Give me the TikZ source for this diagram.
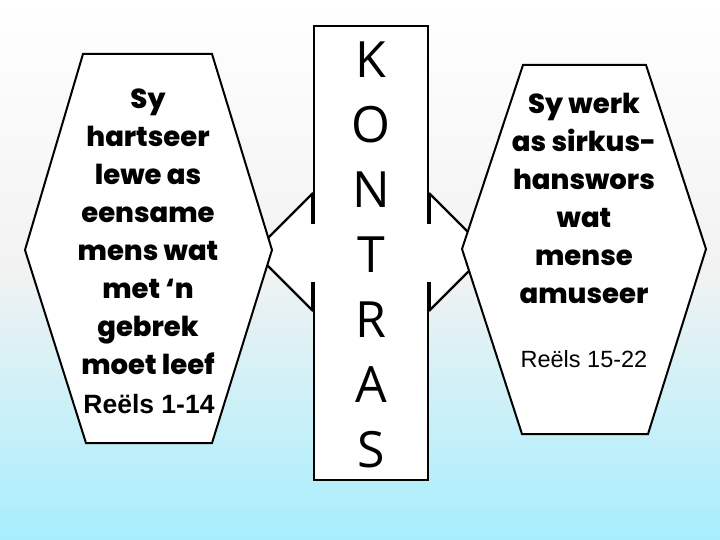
\documentclass[tikz,border=0pt]{standalone}
\usepackage{fontspec}
\setmainfont{Poppins}
\newfontfamily\hexfont{Poppins}[UprightFont=* ExtraBold]
\newfontfamily\arialfont{Liberation Sans}
\newfontfamily\kfont{Open Sans}
\definecolor{bgtop}{RGB}{255,255,255}
\definecolor{bgmid}{RGB}{242,242,242}
\definecolor{bgbot}{RGB}{166,238,253}
\tikzset{
  hexshape/.style={draw=black, fill=white, line width=2pt, line join=miter},
  edgeline/.style={draw=black, line width=2.2pt},
  barline/.style={draw=black, line width=4pt},
  hextext/.style={align=center, font=\hexfont\fontsize{27.5}{38}\selectfont, inner sep=0pt},
  reftextl/.style={font=\arialfont\bfseries\fontsize{26.5}{30}\selectfont, inner sep=0pt},
  reftextr/.style={font=\arialfont\fontsize{23.5}{28}\selectfont, inner sep=0pt},
  ktext/.style={align=center, font=\kfont\fontsize{50}{65}\selectfont, inner sep=0pt}
}
\begin{document}
\begin{tikzpicture}[x=1pt,y=-1pt]
\useasboundingbox (0,0) rectangle (720,540);
\shade[top color=bgtop, bottom color=bgbot, middle color=bgmid] (0,0) rectangle (720,540);
% central rectangle fill
\fill[white] (314,26) rectangle (428,480);
% arrow shapes
\fill[white] (314,193) -- (256,251) -- (314,309) -- cycle;
\fill[white] (428,193) -- (486,251) -- (428,309) -- cycle;
\coordinate (lt) at (313,193); \coordinate (lb) at (313,311);
\coordinate (rt) at (429,193); \coordinate (rb) at (429,311);
\draw[edgeline] (lt) -- (258,248);
\draw[edgeline] (lb) -- (258,256);
\draw[edgeline] (rt) -- (484,248);
\draw[edgeline] (rb) -- (484,256);
% rectangle edges
\draw[edgeline] (314,224) -- (314,26) -- (428,26) -- (428,224);
\draw[edgeline] (314,282) -- (314,480) -- (428,480) -- (428,282);
\draw[barline] (313,193) -- (313,224);
\draw[barline] (313,282) -- (313,311);
\draw[barline] (429,193) -- (429,224);
\draw[barline] (429,282) -- (429,311);
% hexagons
\draw[hexshape] (83,54) -- (212,54) -- (272,250) -- (212,443) -- (86,443) -- (25,250) -- cycle;
\draw[hexshape] (523,65) -- (646,65) -- (706,249) -- (648,434) -- (522,434) -- (462,249) -- cycle;
% texts
\node[hextext] (lefttext) at (148,232) {Sy\\hartseer\\lewe as\\eensame\\mens wat\\met ‘n\\gebrek\\moet leef};
\node[reftextl, anchor=base] (leftref) at (149,413) {Reëls 1-14};
\node[reftextr, anchor=base] (rightref) at (584,367) {Reëls 15-22};
\node[hextext] (righttext) at (584,198) {Sy werk\\as sirkus-\\hanswors\\wat\\mense\\amuseer};
\node[ktext] (kontras) at (371,255) {K\\O\\N\\T\\R\\A\\S};
\end{tikzpicture}
\end{document}
